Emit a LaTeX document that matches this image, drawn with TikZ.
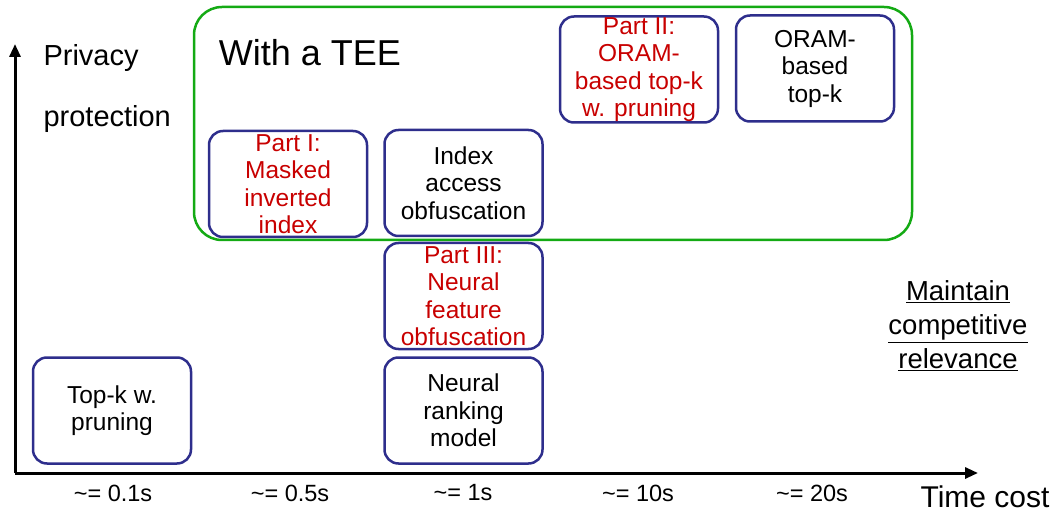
\documentclass[tikz,border=0pt]{standalone}
\usepackage{fontspec}
\setmainfont{Liberation Sans}
\usetikzlibrary{arrows.meta}
\definecolor{boxblue}{RGB}{46,46,140}
\definecolor{partred}{RGB}{200,0,0}
\definecolor{teegreen}{RGB}{20,170,20}
\tikzset{
  stagebox/.style={draw=boxblue, line width=2.5pt, rounded corners=14pt,
    minimum width=158pt, minimum height=106pt, inner sep=0pt,
    align=center, font=\fontsize{24.5}{27.5}\selectfont},
  partbox/.style={stagebox, text=partred},
  axisline/.style={line width=3pt, -{Triangle[length=13pt,width=11pt]}},
  ticklabel/.style={font=\fontsize{23.5}{26}\selectfont},
  axislabel/.style={font=\fontsize{29}{33}\selectfont, anchor=west},
}
\begin{document}
\begin{tikzpicture}[x=1pt, y=-1pt]
  \useasboundingbox (0,0) rectangle (1055,513);

  % TEE region
  \draw[teegreen, line width=2.5pt, rounded corners=28pt] (194,7) rectangle (912,240);
  \node[font=\fontsize{36}{40}\selectfont] (tee) at (310,53) {With a TEE};

  % axes
  \coordinate (origin) at (15,473);
  \coordinate (ytip) at (15,44);
  \coordinate (xtip) at (978,473);
  \draw[axisline] (origin) -- (ytip);
  \draw[axisline] (origin) -- (xtip);

  \node[axislabel] (privacy) at (40,58) {Privacy};
  \node[axislabel] (protection) at (40,119) {protection};
  \node[axislabel, font=\fontsize{30}{34}\selectfont, anchor=center] (timecost) at (985,497) {Time cost};

  % time cost ticks
  \node[ticklabel] (t1) at (113,493) {\textasciitilde= 0.1s};
  \node[ticklabel] (t2) at (290,493) {\textasciitilde= 0.5s};
  \node[ticklabel] (t3) at (463,493) {\textasciitilde= 1s};
  \node[ticklabel] (t4) at (638,493) {\textasciitilde= 10s};
  \node[ticklabel] (t5) at (812,493) {\textasciitilde= 20s};

  % approaches
  \node[partbox] (partI) at (288,184) {Part I:\\Masked\\inverted\\index};
  \node[stagebox] (obf) at (463.5,183) {Index\\access\\obfuscation};
  \node[partbox] (partII) at (639,69.5) {Part II:\\ORAM-\\based top-k\\w. pruning};
  \node[stagebox] (oram) at (815,68.5) {ORAM-\\based\\top-k};
  \node[partbox] (partIII) at (463.5,296) {Part III:\\Neural\\feature\\obfuscation};
  \node[stagebox] (neural) at (463.5,410.5) {Neural\\ranking\\model};
  \node[stagebox] (topk) at (112,410.5) {Top-k w.\\pruning};

  % relevance note
  \node[align=center, font=\fontsize{27.5}{34}\selectfont] (relevance) at (958,326)
    {\underline{Maintain}\\\underline{competitive}\\\underline{relevance}};
\end{tikzpicture}
\end{document}
